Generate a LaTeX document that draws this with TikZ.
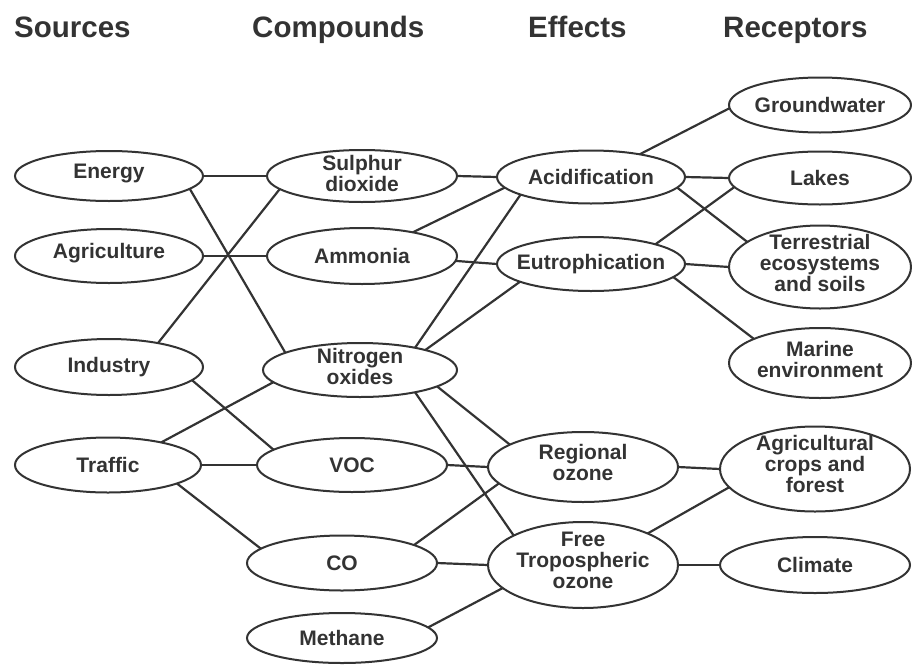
\documentclass[tikz,border=0pt]{standalone}
\usepackage{fontspec}
\setmainfont{Liberation Sans}
\usetikzlibrary{shapes.geometric,backgrounds}
\definecolor{ink}{HTML}{333333}
\begin{document}
\begin{tikzpicture}[x=1pt,y=-1pt,
  ell/.style={ellipse, draw=ink, line width=2pt, fill=white, inner sep=0pt, outer sep=0pt},
  sz/.style 2 args={minimum width=#1pt, minimum height=#2pt},
  txt/.style={text=ink, font=\fontsize{21}{21}\selectfont\bfseries, align=center, inner sep=0pt},
  hdr/.style={text=ink, font=\fontsize{29.5}{30}\selectfont\bfseries, anchor=base west, inner sep=0pt},
  link/.style={draw=ink, line width=2.2pt}]
\useasboundingbox (0,0) rectangle (912,664);

% headers
\node[hdr] (h-src) at (14,37) {Sources};
\node[hdr] (h-cmp) at (252,37) {Compounds};
\node[hdr] (h-eff) at (528,37) {Effects};
\node[hdr] (h-rec) at (723,37) {Receptors};

% sources
\node[ell, sz={188}{50}] (energy)   at (109,176) {};
\node[ell, sz={188}{54}] (agri)     at (109,256) {};
\node[ell, sz={188}{56}] (industry) at (109,367) {};
\node[ell, sz={186}{55}] (traffic)  at (108,465) {};
% compounds
\node[ell, sz={190}{52}] (so2)     at (362,176) {};
\node[ell, sz={190}{56}] (nh3)     at (362,256) {};
\node[ell, sz={194}{54}] (nox)     at (360,370) {};
\node[ell, sz={190}{54}] (voc)     at (352,465) {};
\node[ell, sz={190}{55}] (co)      at (342,563) {};
\node[ell, sz={190}{50}] (methane) at (342,638) {};
% effects
\node[ell, sz={188}{53}] (acid)  at (591,177) {};
\node[ell, sz={188}{54}] (eutro) at (591,264) {};
\node[ell, sz={190}{70}] (regoz) at (583,467) {};
\node[ell, sz={190}{86}] (fto)   at (583,565) {};
% receptors
\node[ell, sz={182}{55}] (gw)      at (820,105) {};
\node[ell, sz={182}{53}] (lakes)   at (820,178) {};
\node[ell, sz={182}{83}] (terr)    at (820,267) {};
\node[ell, sz={182}{70}] (marine)  at (820,363) {};
\node[ell, sz={190}{85}] (agcrops) at (815,469) {};
\node[ell, sz={190}{56}] (climate) at (815,565) {};

% texts
\node[txt, yshift=2.5pt] (energy-t) at (energy) {Energy};
\node[txt, yshift=2.5pt] (agri-t)   at (agri)   {Agriculture};
\node[txt] (industry-t) at (industry) {Industry};
\node[txt] (traffic-t)  at (traffic)  {Traffic};
\node[txt, yshift=3pt] (so2-t) at (so2) {Sulphur\\dioxide};
\node[txt] (nh3-t)      at (nh3)      {Ammonia};
\node[txt, yshift=4pt] (nox-t) at (nox) {Nitrogen\\oxides};
\node[txt] (voc-t)      at (voc)      {VOC};
\node[txt] (co-t)       at (co)       {CO};
\node[txt] (methane-t)  at (methane)  {Methane};
\node[txt] (acid-t)     at (acid)     {Acidification};
\node[txt] (eutro-t)    at (eutro)    {Eutrophication};
\node[txt, yshift=5pt] (regoz-t) at (regoz) {Regional\\ozone};
\node[txt, yshift=5pt] (fto-t)   at (fto)   {Free\\Tropospheric\\ozone};
\node[txt] (gw-t)       at (gw)       {Groundwater};
\node[txt] (lakes-t)    at (lakes)    {Lakes};
\node[txt, yshift=4pt] (terr-t)    at (terr)    {Terrestrial\\ecosystems\\and soils};
\node[txt, yshift=4pt] (marine-t)  at (marine)  {Marine\\environment};
\node[txt, yshift=5pt] (agcrops-t) at (agcrops) {Agricultural\\crops and\\forest};
\node[txt] (climate-t)  at (climate)  {Climate};

% connectors
\begin{pgfonlayer}{background}
\draw[link] (energy.east) -- (so2.west);
\draw[link] (energy.-9) -- (nox.167);
\draw[link] (agri.east) -- (nh3.west);
\draw[link] (industry.26) -- (so2.-171.5);
\draw[link] (industry.-9) -- (voc.169);
\draw[link] (traffic.23) -- (nox.188.5);
\draw[link] (traffic.east) -- (voc.west);
\draw[link] (traffic.-15.7) -- (co.170);
\draw[link] (so2.east) -- (acid.west);
\draw[link] (nh3.25.3) -- (acid.187.7);
\draw[link] (nh3.-3) -- (eutro.west);
\draw[link] (nox.22.9) -- (acid.194.2);
\draw[link] (nox.17.1) -- (eutro.194.8);
\draw[link] (nox.-12.3) -- (regoz.163.3);
\draw[link] (nox.-22.7) -- (fto.157);
\draw[link] (voc.east) -- (regoz.west);
\draw[link] (co.14.6) -- (regoz.191.4);
\draw[link] (co.east) -- (fto.west);
\draw[link] (methane.7.5) -- (fto.196.9);
\draw[link] (acid.25.6) -- (gw.182.6);
\draw[link] (acid.east) -- (lakes.west);
\draw[link] (acid.-7.75) -- (terr.161.6);
\draw[link] (eutro.17) -- (lakes.186.9);
\draw[link] (eutro.east) -- (terr.west);
\draw[link] (eutro.-9.6) -- (marine.160.3);
\draw[link] (regoz.east) -- (agcrops.west);
\draw[link] (fto.26.9) -- (agcrops.192.3);
\draw[link] (fto.east) -- (climate.west);
\end{pgfonlayer}
\end{tikzpicture}
\end{document}
